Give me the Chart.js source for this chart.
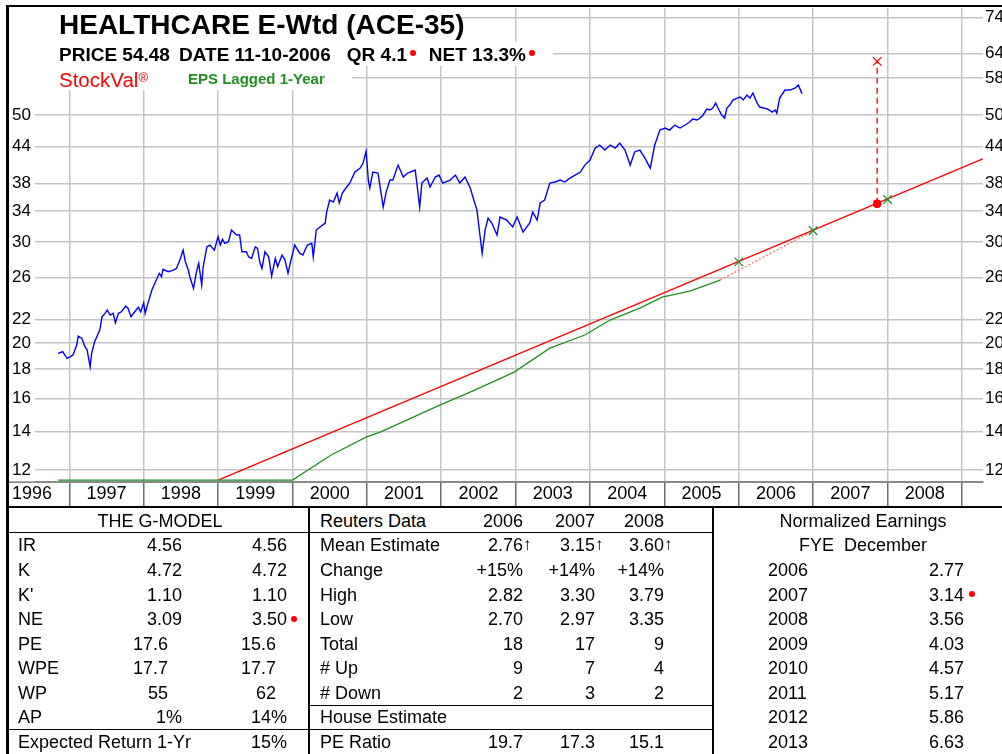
<!DOCTYPE html>
<html lang="en">
<head>
<meta charset="UTF-8">
<title>HEALTHCARE E-Wtd (ACE-35)</title>
<script src="https://cdn.jsdelivr.net/npm/chart.js"></script>
<style>
  html, body { margin: 0; padding: 0; background: #fff; }
  body { width: 1002px; height: 754px; overflow: hidden; position: relative;
         font-family: Arial, "Liberation Sans", sans-serif; color: #000; }
  #wrap { position: absolute; left: 0; top: 0; width: 1020px; height: 507px; }
  .box { position: absolute; background: #fff; }
  .t { position: absolute; white-space: nowrap; font-size: 18px; line-height: 20px; }
  .dot { position: absolute; width: 6px; height: 6px; border-radius: 50%; background: #f00; }
  .ln { position: absolute; background: #000; }
</style>
</head>
<body>
<div id="wrap"><canvas id="chart" width="1020" height="507"></canvas></div>

<!-- title block (white boxes hide the grid behind the text) -->
<div class="box" style="left:9px;top:8px;width:452px;height:34px"></div>
<div class="box" style="left:9px;top:42px;width:544px;height:24px"></div>
<div class="box" style="left:9px;top:66px;width:343px;height:24px"></div>
<div class="t" style="left:59px;top:11px;font-size:28px;line-height:28px;font-weight:bold">HEALTHCARE E-Wtd (ACE-35)</div>
<div class="t" style="left:59px;top:45px;font-size:19px;font-weight:bold">PRICE 54.48</div>
<div class="t" style="left:179px;top:45px;font-size:19px;font-weight:bold">DATE 11-10-2006</div>
<div class="t" style="left:207px;width:200px;text-align:right;top:45px;font-size:19px;font-weight:bold">QR 4.1</div>
<div class="dot" style="left:410px;top:50px"></div>
<div class="t" style="left:326px;width:200px;text-align:right;top:45px;font-size:19px;font-weight:bold">NET 13.3%</div>
<div class="dot" style="left:529px;top:50px"></div>
<div class="t" style="left:59px;top:66px;font-size:20.5px;line-height:24px;color:#f00">StockVal<span style="font-size:13px;vertical-align:5px">®</span></div>
<div class="t" style="left:188px;top:70px;font-size:15px;line-height:18px;font-weight:bold;color:#1f8f1f">EPS Lagged 1-Year</div>

<!-- frame and table lines -->
<div class="ln" style="left:6px;top:5px;width:996px;height:2px"></div>
<div class="ln" style="left:6px;top:5px;width:3px;height:749px"></div>
<div class="ln" style="left:6px;top:506px;width:996px;height:2px"></div>
<div class="ln" style="left:8px;top:532px;width:705px;height:1px"></div>
<div class="ln" style="left:309px;top:705px;width:404px;height:1px"></div>
<div class="ln" style="left:8px;top:729px;width:705px;height:1px"></div>
<div class="ln" style="left:308px;top:507px;width:2px;height:247px"></div>
<div class="ln" style="left:712px;top:507px;width:2px;height:247px"></div>

<div id="tables"></div>

<script>
  // weekly-ish closing prices (decimal year, index level)
  const priceYears = [
    1996.85, 1996.91, 1996.97, 1997.01, 1997.05, 1997.10, 1997.12, 1997.17, 1997.21, 1997.24,
    1997.28, 1997.30, 1997.34, 1997.37, 1997.41, 1997.44, 1997.48, 1997.51, 1997.55, 1997.59,
    1997.62, 1997.66, 1997.70, 1997.76, 1997.79, 1997.83, 1997.88, 1997.93, 1997.96, 1998.00,
    1998.02, 1998.05, 1998.11, 1998.15, 1998.21, 1998.24, 1998.26, 1998.33, 1998.40, 1998.44,
    1998.49, 1998.53, 1998.56, 1998.60, 1998.62, 1998.67, 1998.71, 1998.74, 1998.78, 1998.80,
    1998.85, 1998.89, 1998.95, 1999.00, 1999.03, 1999.06, 1999.09, 1999.14, 1999.18, 1999.25,
    1999.29, 1999.32, 1999.38, 1999.41, 1999.45, 1999.50, 1999.53, 1999.56, 1999.59, 1999.63,
    1999.68, 1999.72, 1999.77, 1999.80, 1999.86, 1999.90, 1999.94, 1999.98, 2000.03, 2000.10,
    2000.14, 2000.20, 2000.26, 2000.28, 2000.32, 2000.37, 2000.44, 2000.46, 2000.50, 2000.55,
    2000.60, 2000.63, 2000.67, 2000.73, 2000.77, 2000.84, 2000.91, 2000.95, 2000.99, 2001.02,
    2001.04, 2001.08, 2001.15, 2001.22, 2001.26, 2001.31, 2001.35, 2001.42, 2001.49, 2001.55,
    2001.65, 2001.67, 2001.71, 2001.74, 2001.81, 2001.85, 2001.92, 2001.97, 2002.02, 2002.12,
    2002.19, 2002.25, 2002.32, 2002.39, 2002.43, 2002.48, 2002.55, 2002.59, 2002.63, 2002.68,
    2002.75, 2002.79, 2002.88, 2002.96, 2003.02, 2003.10, 2003.19, 2003.23, 2003.29, 2003.33,
    2003.39, 2003.46, 2003.53, 2003.60, 2003.66, 2003.73, 2003.80, 2003.87, 2003.93, 2004.00,
    2004.07, 2004.13, 2004.20, 2004.27, 2004.34, 2004.40, 2004.47, 2004.54, 2004.60, 2004.67,
    2004.74, 2004.81, 2004.87, 2004.94, 2005.01, 2005.07, 2005.14, 2005.21, 2005.28, 2005.34,
    2005.38, 2005.44, 2005.48, 2005.52, 2005.57, 2005.61, 2005.65, 2005.69, 2005.72, 2005.77,
    2005.81, 2005.84, 2005.88, 2005.92, 2005.98, 2006.02, 2006.06, 2006.11, 2006.15, 2006.19,
    2006.24, 2006.28, 2006.33, 2006.39, 2006.45, 2006.49, 2006.51, 2006.55, 2006.62, 2006.69,
    2006.76, 2006.80, 2006.85
  ];
  const priceValues = [
    19.18, 19.31, 18.80, 18.92, 19.05, 19.83, 20.56, 20.37, 19.70, 19.44,
    18.17, 19.18, 20.10, 20.51, 21.07, 22.22, 22.53, 22.83, 22.38, 22.53,
    21.69, 22.53, 22.67, 23.20, 22.98, 22.22, 22.67, 23.08, 22.67, 23.51,
    22.53, 23.29, 24.74, 25.42, 26.46, 26.10, 26.89, 26.63, 26.81, 26.99,
    27.99, 29.05, 27.72, 26.81, 26.10, 24.91, 26.63, 27.54, 25.24, 27.17,
    29.44, 29.64, 29.05, 30.65, 29.64, 30.33, 29.85, 30.04, 31.49, 30.86,
    30.86, 28.86, 28.86, 28.28, 28.10, 29.44, 29.25, 27.72, 26.99, 28.86,
    28.28, 26.17, 28.10, 27.17, 28.47, 27.91, 26.46, 27.91, 29.64, 28.67,
    28.47, 29.64, 29.85, 28.25, 31.49, 31.87, 32.39, 33.85, 35.52, 35.24,
    36.53, 35.10, 36.53, 37.43, 38.03, 39.75, 40.39, 41.21, 43.25, 38.49,
    37.28, 39.75, 39.59, 34.54, 36.68, 38.49, 38.49, 40.88, 38.96, 39.59,
    40.07, 38.19, 34.54, 38.03, 38.80, 37.43, 38.96, 39.27, 38.03, 38.49,
    39.27, 38.03, 38.96, 37.28, 35.81, 34.12, 28.67, 31.49, 33.04, 32.39,
    30.86, 33.18, 32.78, 31.87, 33.18, 31.23, 32.39, 33.85, 32.78, 35.10,
    35.52, 38.03, 38.19, 38.49, 38.19, 38.80, 39.27, 39.75, 40.88, 41.71,
    43.77, 44.31, 43.43, 44.31, 43.77, 44.66, 43.43, 40.88, 43.10, 43.43,
    42.00, 40.39, 44.31, 47.06, 47.44, 47.06, 48.02, 47.44, 48.02, 48.60,
    49.19, 48.99, 49.39, 50.00, 51.20, 51.00, 51.41, 52.45, 51.41, 50.00,
    49.39, 51.41, 52.03, 53.09, 53.52, 53.73, 53.09, 54.17, 53.52, 54.61,
    52.66, 51.62, 51.41, 51.20, 50.59, 51.00, 50.39, 53.52, 55.27, 55.27,
    55.72, 56.39, 54.48
  ];

  // EPS lagged 1 year, plotted at 10x (flat part sits on the axis floor)
  const epsYears = [1996.85, 2000.00, 2000.52, 2000.99, 2001.18, 2001.98, 2002.45, 2002.98,
                    2003.46, 2003.93, 2004.27, 2004.67, 2004.97, 2005.34, 2005.75];
  const epsValues = [11.53, 11.53, 12.75, 13.70, 13.98, 15.58, 16.55, 17.79,
                     19.59, 20.65, 21.93, 23.01, 24.05, 24.64, 25.75];

  // projection from last EPS to the 2007 estimate
  const projYears = [2005.75, 2007.00];
  const projValues = [25.75, 31.40];

  // normalized earnings markers (x10)
  const normYears = [2006, 2007, 2008];
  const normValues = [27.7, 31.4, 35.6];

  // 13.3% growth line
  const growthYears = [1999.00, 2009.28];
  const growthValues = [11.53, 41.90];

  // NE (3.50 x10) and worth price 62, one year out
  const targetYear = [2007.86];
  const neValue = [35.0];
  const wpValue = [62.0];

  const yearLabels = ['1996', '1997', '1998', '1999', '2000', '2001', '2002',
                      '2003', '2004', '2005', '2006', '2007', '2008'];
  const leftTicks = [12, 14, 16, 18, 20, 22, 26, 30, 34, 38, 44, 50];
  const rightTicks = [12, 14, 16, 18, 20, 22, 26, 30, 34, 38, 44, 50, 58, 64, 74];

  const xMin = 1996.176, xMax = 2009.283;
  const yMin = 11.44, yMax = 76.85;

  const FONT = 'Arial, "Liberation Sans", sans-serif';
  const pts = (xs, ys) => xs.map((x, i) => ({ x: x, y: ys[i] }));

  // year grid at boundaries, year labels at mid-year
  const xTicks = [];
  yearLabels.forEach((lab, i) => {
    xTicks.push({ value: 1996.5 + i });
    xTicks.push({ value: 1997 + i });
  });
  const isBoundary = v => Number.isInteger(v);

  // keep the plot box exactly where the layout padding puts it
  const noPad = s => { s.paddingTop = 0; s.paddingBottom = 0; s.paddingLeft = 0; s.paddingRight = 0; };

  const ctx = document.getElementById('chart').getContext('2d');
  const chart = new Chart(ctx, {
    type: 'line',
    data: {
      datasets: [
        { data: pts(priceYears, priceValues), borderColor: '#0000ff', borderWidth: 1.4, pointRadius: 0 },
        { data: pts(normYears, normValues), showLine: false, pointStyle: 'crossRot', pointRadius: 6,
          pointBorderColor: '#1f8f1f', pointBorderWidth: 1.2 },
        { data: pts(targetYear, wpValue), showLine: false, pointStyle: 'crossRot', pointRadius: 6,
          pointBorderColor: '#ff0000', pointBorderWidth: 1.2 },
        { data: pts(targetYear, neValue), showLine: false, pointStyle: 'circle', pointRadius: 4,
          pointBackgroundColor: '#ff0000', pointBorderColor: '#ff0000' },
        { data: [{ x: targetYear[0], y: neValue[0] }, { x: targetYear[0], y: wpValue[0] }],
          borderColor: '#ff0000', borderWidth: 1.3, borderDash: [6, 4], pointRadius: 0 },
        { data: pts(epsYears, epsValues), borderColor: '#1f8f1f', borderWidth: 1.3, pointRadius: 0 },
        { data: pts(growthYears, growthValues), borderColor: '#ff0000', borderWidth: 1.3, pointRadius: 0 },
        { data: pts(projYears, projValues), borderColor: '#ff7070', borderWidth: 1.3, borderDash: [2, 2], pointRadius: 0 }
      ]
    },
    options: {
      responsive: false,
      devicePixelRatio: 1,
      animation: false,
      layout: { padding: { left: 8, top: 8, right: 0, bottom: 0 } },
      plugins: { legend: { display: false }, tooltip: { enabled: false } },
      scales: {
        x: {
          type: 'linear', min: xMin, max: xMax, bounds: 'data',
          afterBuildTicks: s => { s.ticks = xTicks.map(t => ({ value: t.value })); },
          afterFit: s => { s.height = 25; noPad(s); },
          grid: {
            color: c => isBoundary(c.tick.value) ? '#c4c4c4' : 'rgba(0,0,0,0)',
            tickColor: c => isBoundary(c.tick.value) ? '#6e6e6e' : 'rgba(0,0,0,0)',
            lineWidth: 1.5, tickWidth: 1.5, tickLength: 25
          },
          border: { display: true, color: '#8a8a8a', width: 2 },
          ticks: {
            autoSkip: false, maxRotation: 0, minRotation: 0, padding: -24, color: '#000',
            font: { size: 18, family: FONT },
            callback: (v, i) => (i % 2 === 0 ? yearLabels[i / 2] : '')
          }
        },
        y: {
          type: 'logarithmic', position: 'left', min: yMin, max: yMax, bounds: 'data',
          afterBuildTicks: s => { s.ticks = rightTicks.map(v => ({ value: v })); },
          afterFit: s => { s.width = 0; noPad(s); },
          grid: { color: '#c4c4c4', lineWidth: 1.5, drawTicks: false },
          border: { display: false },
          ticks: {
            mirror: true, padding: 4, color: '#000', font: { size: 17, family: FONT },
            showLabelBackdrop: true, backdropColor: '#ffffff',
            backdropPadding: { left: 4, right: 4, top: 1, bottom: 1 },
            callback: v => (leftTicks.includes(v) ? String(v) : '')
          }
        },
        y2: {
          type: 'logarithmic', position: 'right', min: yMin, max: yMax, bounds: 'data',
          afterBuildTicks: s => { s.ticks = rightTicks.map(v => ({ value: v })); },
          afterFit: s => { s.width = 37; noPad(s); },
          grid: { display: false, drawTicks: false },
          border: { display: false },
          ticks: { padding: 2, color: '#000', font: { size: 17, family: FONT }, callback: v => String(v) }
        }
      }
    }
  });

  // ---- tables under the chart ----
  const gModelRows = [
    ['IR', '4.56', '4.56'], ['K', '4.72', '4.72'], ["K'", '1.10', '1.10'], ['NE', '3.09', '3.50'],
    ['PE', '17.6', '15.6'], ['WPE', '17.7', '17.7'], ['WP', '55', '62'], ['AP', '1%', '14%']
  ];
  const expectedReturn = '15%';
  const reutersYears = ['2006', '2007', '2008'];
  const reutersRows = [
    ['Mean Estimate', '2.76', '3.15', '3.60'], ['Change', '+15%', '+14%', '+14%'],
    ['High', '2.82', '3.30', '3.79'], ['Low', '2.70', '2.97', '3.35'],
    ['Total', '18', '17', '9'], ['# Up', '9', '7', '4'], ['# Down', '2', '3', '2']
  ];
  const peRatio = ['19.7', '17.3', '15.1'];
  const normTableYears = ['2006', '2007', '2008', '2009', '2010', '2011', '2012', '2013'];
  const normTableValues = ['2.77', '3.14', '3.56', '4.03', '4.57', '5.17', '5.86', '6.63'];

  const host = document.getElementById('tables');
  const HEAD_TOP = 511, ROW0 = 535.4, ROW_H = 24.57;
  function text(str, top, opt) {
    const d = document.createElement('div');
    d.className = 't';
    d.textContent = str;
    d.style.top = top + 'px';
    if (opt.left !== undefined) d.style.left = opt.left + 'px';
    if (opt.right !== undefined) { d.style.left = (opt.right - 200) + 'px'; d.style.width = '200px'; d.style.textAlign = 'right'; }
    if (opt.center !== undefined) { d.style.left = (opt.center - 150) + 'px'; d.style.width = '300px'; d.style.textAlign = 'center'; }
    host.appendChild(d);
    return d;
  }
  function dot(x, y) {
    const d = document.createElement('div');
    d.className = 'dot';
    d.style.left = (x - 3) + 'px';
    d.style.top = (y - 3) + 'px';
    host.appendChild(d);
  }
  const rowTop = i => ROW0 + ROW_H * i;

  // G-model
  text('THE G-MODEL', HEAD_TOP, { center: 160 });
  const narrow = ['PE', 'WPE', 'WP'];
  gModelRows.forEach((r, i) => {
    const n = narrow.includes(r[0]);
    text(r[0], rowTop(i), { left: 18 });
    text(r[1], rowTop(i), { right: n ? 168 : 182 });
    text(r[2], rowTop(i), { right: n ? 276 : 287 });
  });
  dot(294, 619);
  text('Expected Return 1-Yr', rowTop(8), { left: 18 });
  text(expectedReturn, rowTop(8), { right: 287 });

  // Reuters data
  const colRight = [523, 595, 664];
  text('Reuters Data', HEAD_TOP, { left: 320 });
  reutersYears.forEach((y, j) => text(y, HEAD_TOP, { right: colRight[j] }));
  reutersRows.forEach((r, i) => {
    text(r[0], rowTop(i), { left: 320 });
    for (let j = 0; j < 3; j++) {
      const d = text(r[j + 1], rowTop(i), { right: colRight[j] });
      if (i === 0) {
        const a = document.createElement('span');
        a.textContent = '\u2191';
        a.style.cssText = 'position:absolute;left:100%;top:0;font-size:17px';
        d.appendChild(a);
      }
    }
  });
  text('House Estimate', rowTop(7), { left: 320 });
  text('PE Ratio', rowTop(8), { left: 320 });
  peRatio.forEach((v, j) => text(v, rowTop(8), { right: colRight[j] }));

  // Normalized earnings
  text('Normalized Earnings', HEAD_TOP, { center: 863 });
  text('FYE  December', rowTop(0), { center: 863 }).style.whiteSpace = 'pre';
  normTableYears.forEach((y, i) => {
    text(y, rowTop(i + 1), { left: 768 });
    text(normTableValues[i], rowTop(i + 1), { right: 964 });
  });
  dot(972, 594);
</script>
</body>
</html>
